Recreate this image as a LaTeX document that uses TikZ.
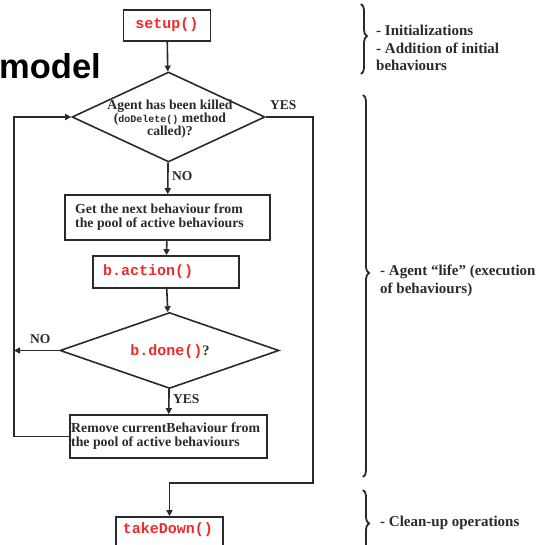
\documentclass[tikz,border=0pt]{standalone}
\usepackage{fontspec}
\setmainfont{Liberation Serif}
\setmonofont{Liberation Mono}
\newfontfamily\modelfont{Liberation Sans}
\usetikzlibrary{arrows.meta,decorations.pathreplacing,shapes.geometric}
\definecolor{codered}{HTML}{EE2A2A}
\definecolor{ink}{HTML}{2A2A2A}
\tikzset{
  lw/.style={line width=1.6pt, draw=ink},
  box/.style={lw, rectangle, inner sep=0pt},
  dia/.style={lw, diamond, inner sep=0pt},
  flow/.style={lw, -{Triangle[length=6pt,width=6pt]}},
  plain/.style={lw},
  txt/.style={font=\fontsize{13.8}{14}\selectfont\bfseries, text=ink, inner sep=0pt},
  code/.style={font=\fontsize{15}{16}\selectfont\ttfamily\bfseries, text=codered, inner sep=0pt},
  lab/.style={font=\fontsize{13.5}{14}\selectfont\bfseries, text=ink, inner sep=0pt},
  note/.style={font=\fontsize{15}{17.5}\selectfont\bfseries, text=ink, inner sep=0pt, align=left, anchor=north west},
  brc/.style={line width=1.8pt, draw=ink, decorate, decoration={brace, amplitude=6pt, #1}},
}
\begin{document}
\begin{tikzpicture}[x=1pt,y=-1pt]
\useasboundingbox (0,0) rectangle (550,545);
% model title
\node[font=\fontsize{34.5}{36}\selectfont\modelfont\bfseries, anchor=base west, inner sep=0pt] (title) at (-1,79) {model};
% nodes
\node[box, minimum width=87pt, minimum height=31pt] (setup) at (167,25.5) {};
\node[code] (setupt) at (167,25) {setup()};
\node[dia, minimum width=193pt, minimum height=90pt] (d1) at (168.5,117) {};
\node[lab, align=center, font=\fontsize{13.7}{12.8}\selectfont\bfseries] (d1t) at (170,119) {Agent has been killed\\({\fontsize{10}{10}\selectfont\ttfamily\bfseries doDelete()} method\\called)?};
\node[box, minimum width=205pt, minimum height=45pt] (get) at (167.5,217.5) {};
\node[txt, align=left, anchor=north west] (gett) at (75,204) {Get the next behaviour from\\the pool of active behaviours};
\node[box, minimum width=146pt, minimum height=32pt] (act) at (166,272) {};
\node[code, anchor=west] (actt) at (103,272) {b.action()};
\node[dia, minimum width=219pt, minimum height=76pt] (d2) at (169.5,350.5) {};
\node[inner sep=0pt] (d2t) at (170,352) {{\fontsize{15}{16}\selectfont\ttfamily\bfseries\color{codered}b.done()}{\fontsize{14.5}{16}\selectfont\bfseries\color{ink}?}};
\node[box, minimum width=197pt, minimum height=43pt] (rem) at (168.5,436.5) {};
\node[txt, align=left, anchor=north west] (remt) at (71,423) {Remove currentBehaviour from\\the pool of active behaviours};
\node[box, minimum width=107pt, minimum height=34pt] (td) at (169.5,534) {};
\node[code] (tdt) at (168,530) {takeDown()};
% labels
\node[lab, anchor=south west] (yes1) at (270,110) {YES};
\node[lab, anchor=west] (no1) at (172,176) {NO};
\node[lab, anchor=south west] (no2) at (30,344) {NO};
\node[lab, anchor=west] (yes2) at (173,399) {YES};
% coordinates
\coordinate (lx) at (14,0);
\coordinate (c1) at (313,483);
% connectors
\draw[flow] (setup) -- (d1);
\draw[flow] (d1) -- (get);
\draw[flow] (get) -- (act);
\draw[flow] (act) -- (d2);
\draw[flow] (d2) -- (rem);
\draw[flow] (d2.west) -- (d2.west -| lx);
\draw[flow] (rem.west) -| (lx |- rem.west) |- (d1.west);
\draw[flow] (d1.east) -| (c1) -| (td.north);
% braces
\draw[brc={aspect=0.46}] (361,4) -- (361,74);
\node[note] (n1) at (376,25) {- Initializations\\- Addition of initial\\behaviours};
\draw[brc={aspect=0.466}] (363,95) -- (363,477);
\node[note] (n2) at (380,265) {- Agent “life” (execution\\of behaviours)};
\draw[brc={aspect=0.5}] (363,490) -- (363,557);
\node[note, anchor=west] (n3) at (380,523) {- Clean-up operations};
\end{tikzpicture}
\end{document}
